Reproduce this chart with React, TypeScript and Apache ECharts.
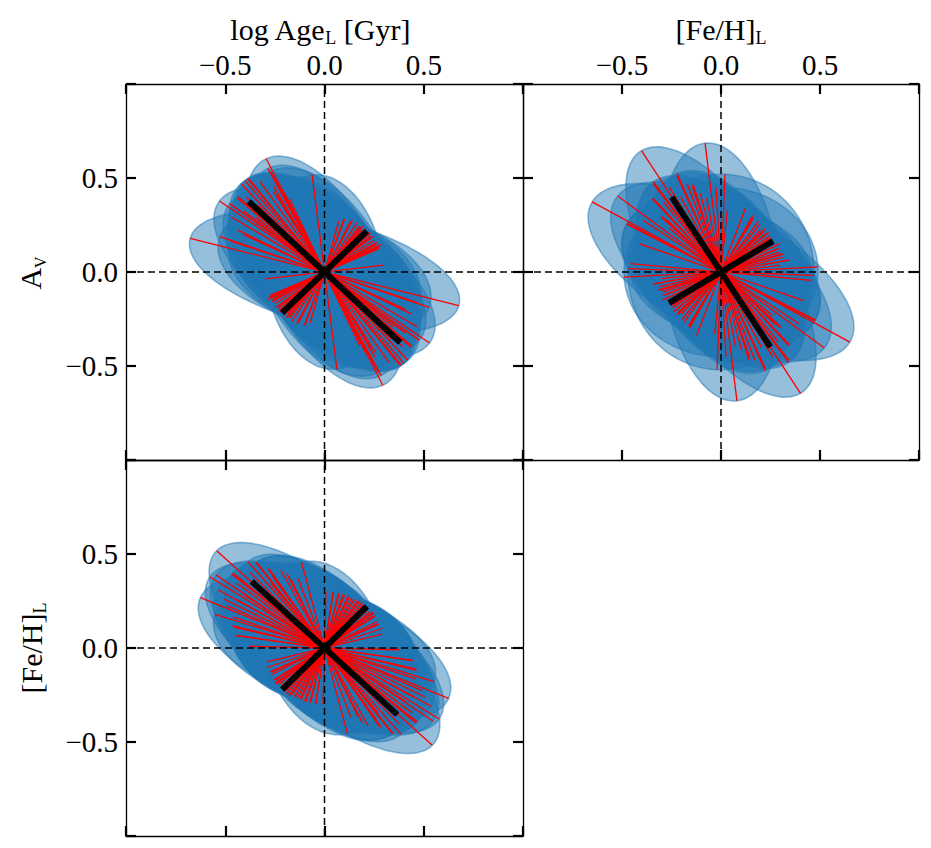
import React, { useEffect, useRef } from 'react';
import * as echarts from 'echarts';

// ---------- data ----------
// axis range & ticks (shared by every panel)
const axisMin = -1;
const axisMax = 1;
const axisStep = 0.5;

// each sample: [angle of major axis (deg), semi-major, semi-minor]
const ageAvSamples: number[][] = [
  [165.2, 0.70, 0.28], [144.5, 0.65, 0.30], [160.3, 0.56, 0.30], [153.0, 0.49, 0.31],
  [137.4, 0.59, 0.30], [141.5, 0.52, 0.31], [129.5, 0.63, 0.30], [127.5, 0.62, 0.31],
  [116.0, 0.67, 0.30], [117.4, 0.62, 0.30], [121.0, 0.50, 0.31], [116.8, 0.55, 0.30],
  [96.9, 0.52, 0.30], [131.8, 0.63, 0.31], [134.7, 0.56, 0.30], [136.0, 0.52, 0.29],
  [133.4, 0.49, 0.31], [117.0, 0.60, 0.32], [119.9, 0.47, 0.30], [119.4, 0.52, 0.30],
  [127.9, 0.63, 0.29], [138.2, 0.59, 0.31], [142.7, 0.60, 0.30], [114.4, 0.43, 0.30],
  [115.7, 0.48, 0.31], [154.0, 0.45, 0.30], [160.8, 0.50, 0.30], [148.0, 0.55, 0.31],
  [124.0, 0.58, 0.30], [140.0, 0.45, 0.29],
];
const fehAvSamples: number[][] = [
  [150.2, 0.75, 0.33], [142.2, 0.66, 0.32], [121.9, 0.76, 0.31], [96.7, 0.69, 0.30],
  [151.3, 0.54, 0.33], [174.5, 0.46, 0.33], [183.2, 0.49, 0.45], [87.8, 0.52, 0.47],
  [125.4, 0.59, 0.31], [131.2, 0.52, 0.32], [135.4, 0.42, 0.31], [113.0, 0.57, 0.32],
  [110.0, 0.50, 0.31], [106.8, 0.49, 0.33], [104.0, 0.43, 0.32], [134.6, 0.39, 0.30],
  [131.7, 0.52, 0.31], [126.1, 0.58, 0.30], [135.9, 0.42, 0.32], [113.5, 0.56, 0.31],
  [107.7, 0.48, 0.32], [138.2, 0.35, 0.30], [151.9, 0.54, 0.34], [117.0, 0.45, 0.33],
  [120.0, 0.52, 0.30], [128.0, 0.47, 0.31], [145.0, 0.48, 0.33], [100.5, 0.40, 0.35],
  [160.0, 0.44, 0.36],
];
const ageFehSamples: number[][] = [
  [136.4, 0.75, 0.30], [156.8, 0.68, 0.30], [146.8, 0.69, 0.30], [144.6, 0.67, 0.31],
  [152.8, 0.57, 0.30], [139.9, 0.61, 0.30], [166.3, 0.47, 0.30], [171.4, 0.45, 0.30],
  [126.9, 0.57, 0.31], [124.0, 0.51, 0.30], [124.4, 0.46, 0.30], [104.2, 0.47, 0.30],
  [114.8, 0.40, 0.30], [109.8, 0.39, 0.31], [155.3, 0.54, 0.30], [160.3, 0.49, 0.30],
  [178.6, 0.38, 0.30], [139.1, 0.61, 0.30], [127.2, 0.57, 0.30], [123.6, 0.50, 0.31],
  [149.8, 0.52, 0.30], [165.6, 0.48, 0.30], [171.6, 0.45, 0.30], [115.6, 0.44, 0.30],
  [133.0, 0.55, 0.30], [142.0, 0.56, 0.31], [130.0, 0.60, 0.30], [118.0, 0.47, 0.30],
  [150.0, 0.62, 0.30], [162.0, 0.58, 0.30], [128.0, 0.44, 0.31], [145.0, 0.50, 0.30],
];
// mean axes (thick black)
const ageAvMean = [135.5, 0.535, 0.305];
const fehAvMean = [122.0, 0.47, 0.31];
const ageFehMean = [136.0, 0.51, 0.307];

// axis titles
const xTitles = [
  { main: 'log Age', sub: 'L', tail: ' [Gyr]' },
  { main: '[Fe/H]', sub: 'L', tail: '' },
];
const yTitles = [
  { main: 'A', sub: 'V' },
  { main: '[Fe/H]', sub: 'L' },
];

// ---------- helpers ----------
const FONT = '"Liberation Serif", "Times New Roman", serif';
const DEG = Math.PI / 180;

const fmt = (v: number) => {
  if (Math.abs(v) > 0.99) return '';
  const s = Math.abs(v).toFixed(1);
  return v < -1e-9 ? '\u2212' + s : s;
};

function ellipseItem(params: any, api: any) {
  const cx = api.value(0), cy = api.value(1);
  const phi = api.value(2) * DEG, a = api.value(3), b = api.value(4);
  const c = Math.cos(phi), s = Math.sin(phi);
  const pts: number[][] = [];
  const N = 120;
  for (let k = 0; k < N; k++) {
    const t = (2 * Math.PI * k) / N;
    const ea = a * Math.cos(t), eb = b * Math.sin(t);
    pts.push(api.coord([cx + ea * c + eb * s, cy + ea * s - eb * c]));
  }
  return {
    type: 'polygon',
    shape: { points: pts },
    style: { fill: 'rgba(31,119,180,0.47)', stroke: 'rgba(31,119,180,0.5)', lineWidth: 1.6 },
  };
}

function axesItemFactory(width: number, color: string) {
  return (params: any, api: any) => {
    const cx = api.value(0), cy = api.value(1);
    const phi = api.value(2) * DEG, a = api.value(3), b = api.value(4);
    const c = Math.cos(phi), s = Math.sin(phi);
    const mk = (dx: number, dy: number) => {
      const p1 = api.coord([cx - dx, cy - dy]);
      const p2 = api.coord([cx + dx, cy + dy]);
      return {
        type: 'line',
        shape: { x1: p1[0], y1: p1[1], x2: p2[0], y2: p2[1] },
        style: { stroke: color, lineWidth: width, lineCap: 'butt' },
      };
    };
    return { type: 'group', children: [mk(a * c, a * s), mk(b * s, -b * c)] };
  };
}

const toData = (arr: number[][]) => arr.map((r) => [0, 0, r[0], r[1], r[2]]);

export default function App() {
  const ref = useRef<HTMLDivElement>(null);
  useEffect(() => {
    if (!ref.current) return;
    const chart = echarts.init(ref.current, undefined, { renderer: 'svg' });

    const grids = [
      { left: 126, top: 84, width: 397, height: 376 },
      { left: 523, top: 84, width: 396, height: 376 },
      { left: 126, top: 460, width: 397, height: 376 },
    ];
    // which panels show labels
    const topLabels = [true, true, false];
    const leftLabels = [true, false, true];

    const axisBase = (gi: number, position: string, showLabel: boolean, margin: number) => ({
      type: 'value',
      gridIndex: gi,
      position,
      min: axisMin,
      max: axisMax,
      interval: axisStep,
      axisLine: { show: true, onZero: false, lineStyle: { color: '#000', width: 1.3 } },
      axisTick: { show: true, inside: true, length: 10, lineStyle: { color: '#000', width: 2.2 } },
      axisLabel: {
        show: showLabel,
        margin,
        formatter: fmt,
        color: '#000',
        fontFamily: FONT,
        fontSize: 29,
      },
      splitLine: { show: false },
    });

    const xAxis: any[] = [];
    const yAxis: any[] = [];
    grids.forEach((g, gi) => {
      xAxis.push(axisBase(gi, 'bottom', false, 6));
      xAxis.push(axisBase(gi, 'top', topLabels[gi], 5));
      yAxis.push(axisBase(gi, 'left', leftLabels[gi], 8));
      yAxis.push(axisBase(gi, 'right', false, 8));
    });

    const panels = [
      { samples: ageAvSamples, mean: ageAvMean },
      { samples: fehAvSamples, mean: fehAvMean },
      { samples: ageFehSamples, mean: ageFehMean },
    ];

    const dash = { color: '#000', width: 1.5, type: [7, 4] };
    const series: any[] = [];
    panels.forEach((p, gi) => {
      const common = { xAxisIndex: gi * 2, yAxisIndex: gi * 2, encode: { x: 0, y: 1 }, silent: true };
      series.push({ type: 'custom', ...common, renderItem: ellipseItem, data: toData(p.samples) });
      series.push({
        type: 'line', xAxisIndex: gi * 2, yAxisIndex: gi * 2, silent: true, symbol: 'none',
        lineStyle: dash, data: [[axisMin, 0], [axisMax, 0]],
      });
      series.push({
        type: 'line', xAxisIndex: gi * 2, yAxisIndex: gi * 2, silent: true, symbol: 'none',
        lineStyle: dash, data: [[0, axisMin], [0, axisMax]],
      });
      series.push({ type: 'custom', ...common, renderItem: axesItemFactory(1.3, '#ff0000'), data: toData(p.samples) });
      series.push({ type: 'custom', ...common, renderItem: axesItemFactory(6, '#000000'), data: toData([p.mean]) });
    });

    const richM = { fontSize: 30, fontFamily: FONT, lineHeight: 36, fill: '#000' };
    const richS = { fontSize: 18, fontFamily: FONT, lineHeight: 18, verticalAlign: 'bottom', fill: '#000' };
    const richSv = { fontSize: 16, fontFamily: FONT, lineHeight: 16, verticalAlign: 'bottom', fill: '#000' };

    const graphic: any[] = [
      {
        type: 'text', x: 320, y: 29,
        style: {
          text: `{m|${xTitles[0].main}}{s|${xTitles[0].sub}}{m|${xTitles[0].tail}}`,
          rich: { m: richM, s: richS }, align: 'center', verticalAlign: 'middle', fill: '#000',
        },
      },
      {
        type: 'text', x: 721, y: 29,
        style: {
          text: `{m|${xTitles[1].main}}{s|${xTitles[1].sub}}`,
          rich: { m: richM, s: richS }, align: 'center', verticalAlign: 'middle', fill: '#000',
        },
      },
      {
        type: 'text', x: 30, y: 273, rotation: Math.PI / 2,
        style: {
          text: `{m|${yTitles[0].main}}{s|${yTitles[0].sub}}`,
          rich: { m: richM, s: richSv }, align: 'center', verticalAlign: 'middle', fill: '#000',
        },
      },
      {
        type: 'text', x: 31, y: 648, rotation: Math.PI / 2,
        style: {
          text: `{m|${yTitles[1].main}}{s|${yTitles[1].sub}}`,
          rich: { m: richM, s: richS }, align: 'center', verticalAlign: 'middle', fill: '#000',
        },
      },
    ];

    chart.setOption({
      animation: false,
      backgroundColor: '#ffffff',
      grid: grids.map((g) => ({ ...g, containLabel: false, outerBoundsMode: 'none' })),
      xAxis,
      yAxis,
      series,
      graphic,
    });
    return () => chart.dispose();
  }, []);
  return <div ref={ref} style={{ position: 'absolute', left: 0, top: 0, width: 931, height: 848 }} />;
}
